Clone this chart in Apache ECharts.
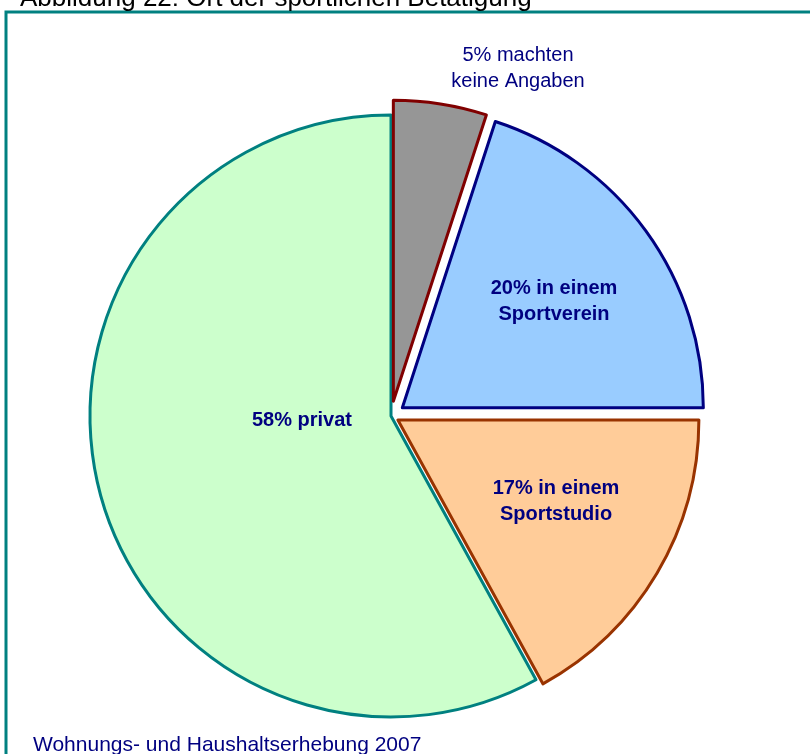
<!DOCTYPE html>
<html>
<head>
<meta charset="utf-8">
<script src="https://cdn.jsdelivr.net/npm/echarts@6/dist/echarts.min.js"></script>
<style>
  html, body { margin: 0; padding: 0; background: #fff; }
  #chart { width: 810px; height: 754px; }
</style>
</head>
<body>
<div id="chart"></div>
<script>
// slices, clockwise from 12 o'clock
const names = ['keine Angaben', 'Sportverein', 'Sportstudio', 'privat']
const values = [5, 20, 17, 58]
const labels = ['5% machten\nkeine Angaben', '20% in einem\nSportverein', '17% in einem\nSportstudio', '58% privat']
const fills = ['#969696', '#99CCFF', '#FFCC99', '#CCFFCC']
const strokes = ['#800000', '#000080', '#993300', '#008080']
const offsets = [15, 14, 8, 0]
// label centres in px
const labelPos = [[518, 68], [554, 301], [556, 501], [302, 420]]

const FONT = 'Arial, "Liberation Sans", sans-serif'
const chart = echarts.init(document.getElementById('chart'))

// one series per slice so each slice gets its own pull-out distance
function sliceSeries (k) {
  return {
    type: 'pie',
    center: [391, 416],
    radius: [0, 301],
    startAngle: 90,
    clockwise: true,
    animation: false,
    silent: true,
    selectedMode: 'multiple',
    selectedOffset: offsets[k],
    z: k === 3 ? 1 : 2,
    label: { show: false },
    labelLine: { show: false },
    data: names.map(function (n, i) {
      const mine = i === k
      return {
        name: n,
        value: values[i],
        selected: mine && offsets[k] > 0,
        itemStyle: {
          color: mine ? fills[i] : 'rgba(0,0,0,0)',
          borderColor: mine ? strokes[i] : 'rgba(0,0,0,0)',
          borderWidth: mine ? 3 : 0
        }
      }
    })
  }
}

// slice labels (pie's own label layout ignores free placement)
const labelTexts = labels.map(function (t, i) {
  return {
    type: 'text',
    x: labelPos[i][0],
    y: labelPos[i][1],
    z: 10,
    style: {
      text: t,
      font: (i === 0 ? '' : 'bold ') + '20px ' + FONT,
      fill: '#000080',
      align: 'center',
      verticalAlign: 'middle',
      lineHeight: 26
    }
  }
})

chart.setOption({
  backgroundColor: '#fff',
  graphic: [
    {
      type: 'rect',
      shape: { x: 6, y: 12, width: 830, height: 780 },
      style: { fill: 'none', stroke: '#008080', lineWidth: 3 },
      z: 0
    },
    {
      type: 'text',
      x: 20,
      y: 12,
      style: {
        text: 'Abbildung 22: Ort der sportlichen Betätigung',
        font: '26px ' + FONT,
        fill: '#000',
        verticalAlign: 'bottom'
      }
    },
    {
      type: 'text',
      x: 33,
      y: 745,
      style: {
        text: 'Wohnungs- und Haushaltserhebung 2007',
        font: '21px ' + FONT,
        fill: '#000080',
        verticalAlign: 'middle'
      }
    }
  ].concat(labelTexts),
  series: [sliceSeries(3), sliceSeries(0), sliceSeries(1), sliceSeries(2)]
})
</script>
</body>
</html>
